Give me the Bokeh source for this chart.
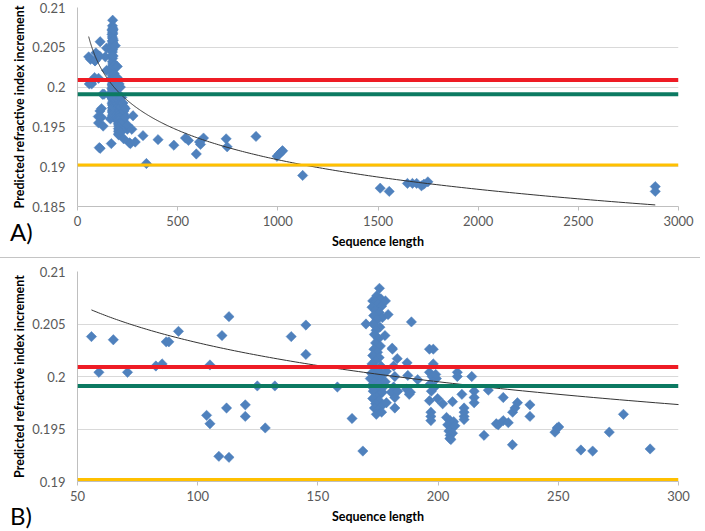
import numpy as np
from bokeh.plotting import figure
from bokeh.models import (ColumnDataSource, Span, FixedTicker, CustomJSTickFormatter,
                          Range1d, Div)
from bokeh.layouts import column
from bokeh.embed import file_html
from bokeh.resources import INLINE

# ---- data ----
seq_length = [
    55.8, 58.9, 64.9, 70.8, 82.6, 85.2, 86.9, 88.0, 92.0, 103.7, 105.1, 105.1, 108.8, 110.1,
    112.0, 113.0, 113.0, 119.8, 119.8, 124.8, 128.1, 132.1, 138.9, 145.0, 145.0, 158.1, 164.2,
    168.7, 170.0,
    175.6, 174.5, 176.2, 172.8, 173.9, 175.0, 176.5, 172.5, 174.0, 175.5, 173.2, 176.8, 174.6,
    173.0, 175.8, 174.2, 173.5, 175.2, 174.0, 176.0, 173.3, 174.8, 172.8, 175.5, 174.0, 172.5,
    176.2, 173.8, 175.0, 172.3, 177.0, 174.2, 171.8, 176.0, 173.5, 175.3, 172.2, 177.2, 174.5,
    173.0, 176.0, 174.8, 172.8, 175.5, 174.0, 176.5, 173.5, 175.0, 174.3,
    177.9, 179.2, 178.1, 180.9, 183.0, 181.0, 182.0, 181.5, 182.0, 181.5, 180.5, 182.0, 183.2,
    176.8, 176.5, 178.5, 178.0, 178.5,
    188.9, 187.1, 187.4, 186.9, 188.0, 188.5, 191.5,
    196.4, 198.0, 198.0, 196.4, 197.5, 199.3, 196.8, 198.6, 197.2, 199.0, 196.4, 199.8, 201.9,
    197.0, 197.0, 197.0, 206.0, 208.0, 208.0, 209.9, 210.8, 210.8, 210.8, 210.8, 214.0, 215.0,
    215.0, 215.0, 220.9,
    203.5, 205.0, 206.5, 204.0, 205.5, 207.0, 204.5, 206.0, 205.0, 204.9, 205.3,
    219.1, 224.2, 225.0, 227.1, 229.2, 227.1, 230.9, 231.0, 232.0, 233.0, 238.2, 238.2, 248.6,
    249.5, 250.2, 259.4, 264.3, 271.2, 277.1, 288.2,
    327, 344, 402, 481, 539, 554, 593, 609, 614, 629, 742, 747, 891, 996, 1007, 1019, 1024,
    1124, 1511, 1556, 1647, 1672, 1693, 1717, 1729, 1749, 2884, 2884,
]
pred_dn = [
    0.2038, 0.2004, 0.2035, 0.2004, 0.2010, 0.2012, 0.2033, 0.2033, 0.2043, 0.1963, 0.1955, 0.2011,
    0.1924, 0.2039, 0.1970, 0.2057, 0.1923, 0.1973, 0.1962, 0.1991, 0.1951, 0.1991, 0.2038, 0.2049,
    0.2021, 0.1990, 0.1960, 0.1929, 0.2050,
    0.2084, 0.2077, 0.2074, 0.2072, 0.2071, 0.2069, 0.2067, 0.2066, 0.2063, 0.2061, 0.2058, 0.2056,
    0.2054, 0.2050, 0.2047, 0.2044, 0.2040, 0.2036, 0.2032, 0.2029, 0.2026, 0.2023, 0.2020, 0.2018,
    0.2015, 0.2012, 0.2010, 0.2008, 0.2005, 0.2003, 0.2002, 0.2000, 0.1998, 0.1997, 0.1995, 0.1993,
    0.1991, 0.1990, 0.1988, 0.1986, 0.1984, 0.1981, 0.1979, 0.1977, 0.1974, 0.1972, 0.1970, 0.1968,
    0.1964,
    0.2039, 0.2059, 0.2072, 0.2027, 0.2017, 0.2026, 0.1970, 0.2010, 0.2000, 0.1990, 0.1985, 0.1980,
    0.1986, 0.1985, 0.1966, 0.1975, 0.1995, 0.2005,
    0.2052, 0.2013, 0.2001, 0.1988, 0.1983, 0.1985, 0.1997,
    0.2026, 0.2026, 0.2012, 0.2004, 0.2000, 0.1998, 0.1993, 0.1990, 0.1986, 0.2002, 0.1977, 0.1979,
    0.1974, 0.1966, 0.1962, 0.1958, 0.1976, 0.2004, 0.2000, 0.1983, 0.1970, 0.1966, 0.1962, 0.1959,
    0.2000, 0.1986, 0.1980, 0.1975, 0.1987,
    0.1961, 0.1958, 0.1957, 0.1954, 0.1951, 0.1953, 0.1948, 0.1946, 0.1944, 0.1941, 0.1940,
    0.1944, 0.1955, 0.1954, 0.1958, 0.1956, 0.1980, 0.1935, 0.1966, 0.1970, 0.1975, 0.1973, 0.1962,
    0.1947, 0.1951, 0.1952, 0.1930, 0.1929, 0.1947, 0.1964, 0.1931,
    0.1939, 0.1904, 0.1934, 0.1927, 0.1936, 0.1933, 0.1916, 0.1931, 0.1928, 0.1936, 0.1935, 0.1925,
    0.1938, 0.1913, 0.1916, 0.1919, 0.1920, 0.1889, 0.1873, 0.1869, 0.1879, 0.1879, 0.1879, 0.1876,
    0.1878, 0.1881, 0.1875, 0.1869,
]

# reference levels (red, green, yellow)
level_values = [0.2009, 0.1991, 0.1902]
level_colors = ["#EE1C25", "#0C7A62", "#FFC000"]
level_widths = [4, 4, 3]

# logarithmic trendline  y = a + b*ln(x), coefficients
trend_a = 0.2279
trend_b = -0.00536

panel_a_xticks = [0, 500, 1000, 1500, 2000, 2500, 3000]
panel_a_yticks = [0.185, 0.19, 0.195, 0.2, 0.205, 0.21]
panel_b_xticks = [50, 100, 150, 200, 250, 300]
panel_b_yticks = [0.19, 0.195, 0.2, 0.205, 0.21]
panel_tags = ["A)", "B)"]

FONT = "Lato"
W = 700
src = ColumnDataSource(dict(x=seq_length, y=pred_dn))
tx = np.exp(np.linspace(np.log(min(seq_length)), np.log(max(seq_length)), 300))
trend_src = ColumnDataSource(dict(x=tx, y=trend_a + trend_b * np.log(tx)))


def panel(xr, yr, xt, yt, h, ml, mr, mt, mb):
    p = figure(width=W, height=h, x_range=Range1d(*xr), y_range=Range1d(*yr),
               output_backend="svg", toolbar_location=None,
               min_border_left=ml, min_border_right=mr, min_border_top=mt, min_border_bottom=mb)
    p.outline_line_color = None
    p.xgrid.grid_line_color = None
    p.ygrid.grid_line_color = "#D9D9D9"
    p.ygrid.grid_line_width = 1
    p.xaxis.ticker = FixedTicker(ticks=xt)
    p.yaxis.ticker = FixedTicker(ticks=yt)
    p.ygrid.ticker = FixedTicker(ticks=yt)
    p.yaxis.formatter = CustomJSTickFormatter(code="return String(Math.round(tick*1000)/1000);")
    for ax in (p.xaxis, p.yaxis):
        ax.axis_line_color = "#BFBFBF"
        ax.major_tick_line_color = "#BFBFBF"
        ax.minor_tick_line_color = None
        ax.major_tick_in = 0
        ax.major_label_text_font = FONT
        ax.major_label_text_font_size = "13px"
        ax.major_label_text_color = "#595959"
        ax.axis_label_text_font = FONT
        ax.axis_label_text_font_size = "12.5px"
        ax.axis_label_text_font_style = "bold"
        ax.axis_label_text_color = "#000000"
    p.xaxis.major_tick_out = 4
    p.yaxis.major_tick_out = 0
    p.xaxis.major_label_standoff = 5
    p.yaxis.major_label_standoff = 12
    p.xaxis.axis_label = "Sequence length"
    p.yaxis.axis_label = "Predicted refractive index increment"
    p.xaxis.axis_label_standoff = 5
    p.yaxis.axis_label_standoff = 2

    p.scatter("x", "y", source=src, marker="square", angle=np.pi / 4, size=7.3,
              fill_color="#4F81BD", line_color="#4F81BD", line_width=0.5)
    p.line("x", "y", source=trend_src, line_color="#333333", line_width=1)
    for v, c, w in zip(level_values, level_colors, level_widths):
        p.add_layout(Span(location=v, dimension="width", line_color=c, line_width=w))
    return p


def tag_div(tag, top, line_color):
    html = ('<div style="position:absolute; left:10px; top:%dpx; font-family:Lato; '
            'font-size:24px; line-height:24px; color:#000; white-space:nowrap;">%s</div>'
            % (top, tag))
    return Div(text=html, width=W, height=1, margin=0,
               styles={"background-color": line_color, "height": "1px",
                       "overflow": "visible", "position": "relative", "z-index": "5"})


pa = panel((0, 3000), (0.185, 0.21), panel_a_xticks, panel_a_yticks, 257, 76, 22, 7, 51)
sep = tag_div(panel_tags[0], -37, "#C4C4C4")
pb = panel((50, 300), (0.19, 0.21), panel_b_xticks, panel_b_yticks, 270, 77, 20, 13, 47)
end = tag_div(panel_tags[1], -24, "#FFFFFF")

layout = column(pa, sep, pb, end, spacing=0)
open("out.html", "w").write(file_html(layout, INLINE))
